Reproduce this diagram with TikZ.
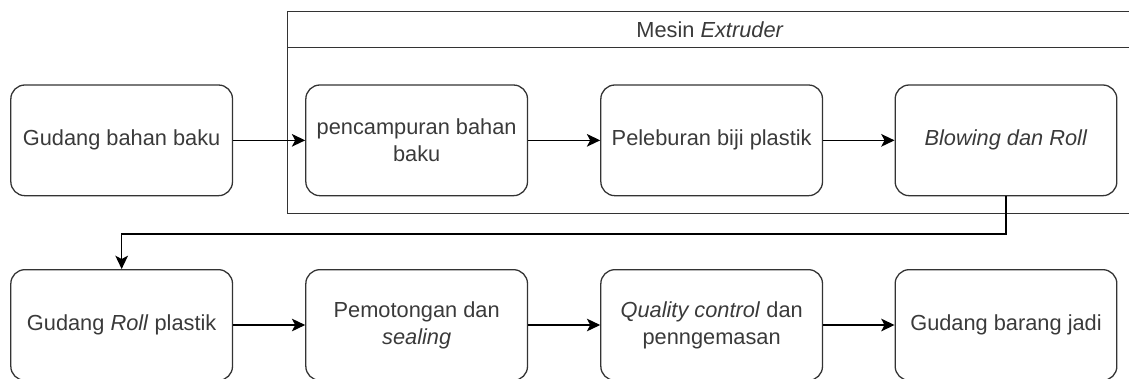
\documentclass[tikz,border=0pt]{standalone}
\usepackage{fontspec}
\setmainfont{Liberation Sans}
\usepackage{xcolor}
\definecolor{garis}{HTML}{333333}
\definecolor{teks}{HTML}{3a3a3a}
\usepackage{tikz}
\usetikzlibrary{arrows.meta, positioning, calc}

\begin{document}
\begin{tikzpicture}[
  proses/.style={rectangle, rounded corners=0.42cm, draw=garis, line width=1.1pt,
    minimum width=6.65cm, minimum height=3.32cm, align=center, text=teks,
    font=\fontsize{18.6}{23}\selectfont},
  bingkai/.style={draw=garis, line width=1.1pt},
  panah/.style={-{Stealth[length=0.4cm, width=0.38cm, inset=0.1cm]}, line width=1.1pt, black}
]
\path[use as bounding box, clip] (0,0) rectangle (33.87,-11.34);

\draw[bingkai] (34,-0.35) -- (8.62,-0.35) -- (8.62,-6.4) -- (34,-6.4);
\draw[bingkai] (8.62,-1.43) -- (34,-1.43);
\node[text=teks, font=\fontsize{18.6}{23}\selectfont] (mesin) at (21.3,-0.89) {Mesin \textit{Extruder}};

\node[proses] (gudangbahan) at (3.65,-4.21)  {Gudang bahan baku};
\node[proses] (campur)      at (12.5,-4.21)  {pencampuran bahan\\baku};
\node[proses] (lebur)       at (21.35,-4.21) {Peleburan biji plastik};
\node[proses] (blowing)     at (30.18,-4.21) {\textit{Blowing dan Roll}};

\node[proses] (gudangroll)  at (3.65,-9.75)  {Gudang \textit{Roll} plastik};
\node[proses] (potong)      at (12.5,-9.75)  {Pemotongan dan\\\textit{sealing}};
\node[proses] (qc)          at (21.35,-9.75) {\textit{Quality control} dan\\penngemasan};
\node[proses] (gudangjadi)  at (30.18,-9.75) {Gudang barang jadi};

\draw[panah] (gudangbahan) -- (campur);
\draw[panah] (campur) -- (lebur);
\draw[panah] (lebur) -- (blowing);
\draw[panah] (blowing.south) -- ++(0,-1.13) -| (gudangroll.north);
\draw[panah] (gudangroll) -- (potong);
\draw[panah] (potong) -- (qc);
\draw[panah] (qc) -- (gudangjadi);
\end{tikzpicture}
\end{document}
